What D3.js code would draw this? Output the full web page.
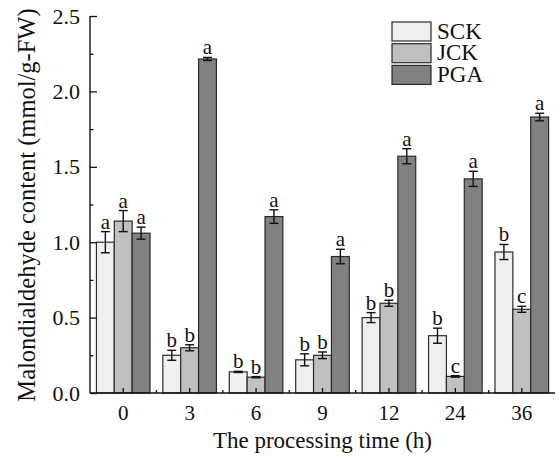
<!DOCTYPE html>
<html>
<head>
<meta charset="utf-8">
<script src="https://cdn.jsdelivr.net/npm/d3@7"></script>
<style>
  body { margin: 0; background: #fff; }
  svg { display: block; font-family: "Liberation Serif", "Times New Roman", serif; }
</style>
</head>
<body>
<svg id="chart"></svg>
<script>
// Data
const times = ["0", "3", "6", "9", "12", "24", "36"];
const series = ["SCK", "JCK", "PGA"];
const sckValues = [1.00, 0.25, 0.14, 0.22, 0.50, 0.38, 0.935];
const jckValues = [1.14, 0.30, 0.105, 0.25, 0.595, 0.11, 0.555];
const pgaValues = [1.06, 2.215, 1.17, 0.905, 1.57, 1.42, 1.83];
const sckErrors = [0.07, 0.033, 0.004, 0.04, 0.033, 0.05, 0.05];
const jckErrors = [0.07, 0.02, 0.004, 0.022, 0.02, 0.005, 0.02];
const pgaErrors = [0.04, 0.01, 0.045, 0.048, 0.05, 0.05, 0.025];
const sckLetters = ["a", "b", "b", "b", "b", "b", "b"];
const jckLetters = ["a", "b", "b", "b", "b", "c", "c"];
const pgaLetters = ["a", "a", "a", "a", "a", "a", "a"];
const yTicks = [0, 0.5, 1.0, 1.5, 2.0, 2.5];
const yMinorTicks = [0.25, 0.75, 1.25, 1.75, 2.25];

const colors = { SCK: "#efefef", JCK: "#c0c0c0", PGA: "#818181" };

// Chart dimensions
const svgWidth = 560;
const svgHeight = 457;
const marginLeft = 90;
const marginRight = 5;
const marginTop = 16;
const plotBottom = 393;

const svg = d3.select("#chart")
  .attr("width", svgWidth)
  .attr("height", svgHeight);

// Scales
const x = d3.scaleBand()
  .domain(times)
  .range([marginLeft, svgWidth - marginRight])
  .padding(0);

const groupWidth = 53.6;
const x1 = d3.scaleBand()
  .domain(series)
  .range([(x.bandwidth() - groupWidth) / 2, (x.bandwidth() + groupWidth) / 2]);

const y = d3.scaleLinear()
  .domain([0, 2.5])
  .range([plotBottom, marginTop]);

// Build rows from arrays
const valueMap = { SCK: sckValues, JCK: jckValues, PGA: pgaValues };
const errorMap = { SCK: sckErrors, JCK: jckErrors, PGA: pgaErrors };
const letterMap = { SCK: sckLetters, JCK: jckLetters, PGA: pgaLetters };

const rows = [];
times.forEach((t, i) => {
  series.forEach(s => {
    rows.push({ time: t, series: s, value: valueMap[s][i], err: errorMap[s][i], letter: letterMap[s][i] });
  });
});

// Bars
svg.append("g")
  .selectAll("rect")
  .data(rows)
  .join("rect")
    .attr("x", d => x(d.time) + x1(d.series))
    .attr("y", d => y(d.value))
    .attr("width", x1.bandwidth())
    .attr("height", d => y(0) - y(d.value))
    .attr("fill", d => colors[d.series])
    .attr("stroke", "#2a2a2a")
    .attr("stroke-width", 1.2);

// Error bars
const capHalf = 4.5;
const errG = svg.append("g")
  .attr("stroke", "#111")
  .attr("stroke-width", 1.4);

rows.forEach(d => {
  const cx = x(d.time) + x1(d.series) + x1.bandwidth() / 2;
  const top = y(d.value + d.err);
  const bot = y(d.value - d.err);
  errG.append("line").attr("x1", cx).attr("x2", cx).attr("y1", top).attr("y2", bot);
  errG.append("line").attr("x1", cx - capHalf).attr("x2", cx + capHalf).attr("y1", top).attr("y2", top);
  errG.append("line").attr("x1", cx - capHalf).attr("x2", cx + capHalf).attr("y1", bot).attr("y2", bot);
});

// Significance letters
svg.append("g")
  .selectAll("text")
  .data(rows)
  .join("text")
    .attr("x", d => x(d.time) + x1(d.series) + x1.bandwidth() / 2)
    .attr("y", d => y(d.value + d.err) - 3)
    .attr("text-anchor", "middle")
    .style("font-size", "21px")
    .attr("fill", "#111")
    .text(d => d.letter);

// Y axis, ticks pointing inward
const yAxis = svg.append("g")
  .attr("transform", "translate(" + marginLeft + ",0)")
  .call(d3.axisRight(y).tickValues(yTicks).tickSize(7).tickFormat(""))
  .call(g => g.select(".domain").remove());
yAxis.selectAll(".tick line").attr("stroke", "#111").attr("stroke-width", 1.3);

svg.append("g")
  .attr("transform", "translate(" + marginLeft + ",0)")
  .call(d3.axisRight(y).tickValues(yMinorTicks).tickSize(3.5).tickFormat(""))
  .call(g => g.select(".domain").remove())
  .selectAll(".tick line").attr("stroke", "#111").attr("stroke-width", 1.3);

svg.append("g")
  .selectAll("text")
  .data(yTicks)
  .join("text")
    .attr("x", 80)
    .attr("y", d => y(d) + 7.5)
    .attr("text-anchor", "end")
    .style("font-size", "22px")
    .attr("fill", "#111")
    .text(d => d3.format(".1f")(d));

svg.append("line")
  .attr("x1", marginLeft).attr("x2", marginLeft)
  .attr("y1", y(2.5)).attr("y2", y(0))
  .attr("stroke", "#111").attr("stroke-width", 1.4);

// X axis, ticks pointing inward
svg.append("g")
  .attr("transform", "translate(0," + plotBottom + ")")
  .call(d3.axisTop(x).tickSize(5).tickFormat(""))
  .call(g => g.select(".domain").remove())
  .selectAll(".tick line").attr("stroke", "#111").attr("stroke-width", 1.3);

const minorX = times.slice(1).map(t => x(t));
svg.append("g")
  .selectAll("line")
  .data(minorX)
  .join("line")
    .attr("x1", d => d).attr("x2", d => d)
    .attr("y1", plotBottom).attr("y2", plotBottom - 3)
    .attr("stroke", "#111").attr("stroke-width", 1.3);

svg.append("line")
  .attr("x1", marginLeft).attr("x2", svgWidth - marginRight)
  .attr("y1", plotBottom).attr("y2", plotBottom)
  .attr("stroke", "#111").attr("stroke-width", 1.4);

svg.append("g")
  .selectAll("text")
  .data(times)
  .join("text")
    .attr("x", d => x(d) + x.bandwidth() / 2)
    .attr("y", 420)
    .attr("text-anchor", "middle")
    .style("font-size", "21px")
    .attr("fill", "#111")
    .text(d => d);

// Axis titles
svg.append("text")
  .attr("x", (marginLeft + svgWidth - marginRight) / 2)
  .attr("y", 448)
  .attr("text-anchor", "middle")
  .style("font-size", "23px")
  .attr("fill", "#111")
  .text("The processing time (h)");

svg.append("text")
  .attr("transform", "translate(35,205) rotate(-90)")
  .attr("text-anchor", "middle")
  .style("font-size", "24.5px")
  .attr("fill", "#111")
  .text("Malondialdehyde content (mmol/g-FW)");

// Legend
const legend = svg.append("g")
  .attr("transform", "translate(392,22)");

legend.selectAll("rect")
  .data(series)
  .join("rect")
    .attr("x", 0)
    .attr("y", (d, i) => i * 21.7)
    .attr("width", 39)
    .attr("height", 19)
    .attr("fill", d => colors[d])
    .attr("stroke", "#2a2a2a")
    .attr("stroke-width", 1.2);

legend.selectAll("text")
  .data(series)
  .join("text")
    .attr("x", 45)
    .attr("y", (d, i) => i * 21.7 + 16.5)
    .style("font-size", "23px")
    .attr("fill", "#111")
    .text(d => d);
</script>
</body>
</html>
